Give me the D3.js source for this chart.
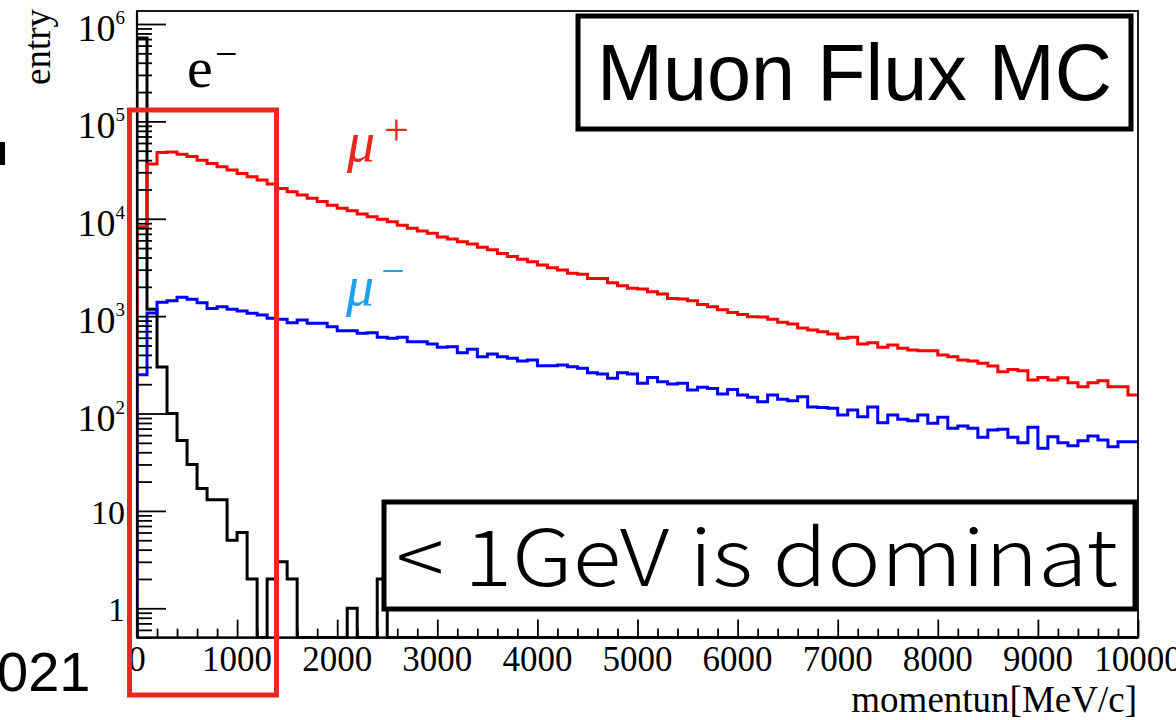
<!DOCTYPE html>
<html><head><meta charset="utf-8">
<script src="https://cdn.jsdelivr.net/npm/d3@7"></script>
<style>html,body{margin:0;padding:0;background:#fff;overflow:hidden;} svg{display:block;}</style>
</head><body>
<svg id="c" width="1176" height="720"></svg>
<script>
// ---------------- data ----------------
const binWidth = 100; // MeV/c per bin, 100 bins from 0 to 10000
const muPlus = [
 8300, 36500, 48000, 48500, 46000, 43500, 40000, 37000, 34200, 31600,
 29200, 27000, 25000, 22700, 20500, 18900, 17500, 16200, 15000, 13800,
 12800, 12100, 11200, 10500, 9900, 9300, 8600, 8000, 7500, 7100,
 6500, 6200, 5800, 5500, 5100, 4800, 4400, 4100, 3830, 3620,
 3350, 3140, 2970, 2750, 2690, 2440, 2430, 2200, 2050, 1930,
 1900, 1780, 1690, 1520, 1500, 1440, 1320, 1250, 1160, 1090,
 1040, 986, 980, 927, 864, 830, 755, 720, 692, 655,
 592, 606, 517, 533, 478, 505, 467, 449, 440, 442,
 399, 383, 354, 346, 328, 307, 269, 284, 275, 221,
 235, 221, 233, 207, 188, 207, 217, 188, 188, 155
];
const muMinus = [
 250, 1080, 1385, 1440, 1560, 1490, 1370, 1200, 1250, 1180,
 1130, 1070, 1030, 950, 927, 856, 912, 844, 844, 778,
 708, 708, 666, 676, 606, 592, 606, 546, 546, 517,
 478, 485, 421, 456, 383, 408, 383, 369, 346, 354,
 310, 310, 315, 303, 291, 262, 255, 230, 262, 255,
 204, 235, 212, 201, 204, 174, 186, 181, 159, 177,
 155, 147, 132, 155, 140, 135, 149, 117, 115, 113,
 96.6, 109, 92.7, 117, 80.5, 96.6, 87.2, 84.4, 96.6, 79.3,
 91.4, 70.5, 74.5, 70.5, 57, 67.7, 68.8, 57, 50.1, 72.2,
 43.9, 57.8, 50.1, 46.7, 52.6, 58.7, 53.5, 45.6, 51.3, 51.3
];
const eMinus = [
 720000, 1180, 300, 100, 53, 30, 17, 13, 13, 5,
 6, 2, 0, 2, 3, 2, 0, 0, 0, 0,
 0, 1, 0, 0, 2, 0, 0, 0, 0, 0,
 0, 0, 0, 0, 0, 0, 0, 0, 0, 0,
 0, 0, 0, 0, 0, 0, 0, 0, 0, 0,
 0, 0, 0, 0, 0, 0, 0, 0, 0, 0,
 0, 0, 0, 0, 0, 0, 0, 0, 0, 0,
 0, 0, 0, 0, 0, 0, 0, 0, 0, 0,
 0, 0, 0, 0, 0, 0, 0, 0, 0, 0,
 0, 0, 0, 0, 0, 0, 0, 0, 0, 0
];
const xTickValues = [0,1000,2000,3000,4000,5000,6000,7000,8000,9000,10000];
const xTickLabels = ["0","1000","2000","3000","4000","5000","6000","7000","8000","9000","10000"];
const yTickValues = [1,10,100,1000,10000,100000,1000000];
const yTickBase = ["1","10","10","10","10","10","10"];
const yTickExp  = ["","","2","3","4","5","6"];

// ---------------- layout ----------------
const svg = d3.select("#c");
const L = 137, R = 1138, T = 11, B = 637.6;
const x = d3.scaleLinear().domain([0, 10000]).range([L, R]);
const y = d3.scaleLog().domain([0.5, 1.36e6]).range([B, T]);
const serif = "'Liberation Serif','Times New Roman',Times,serif";
const sans = "'Liberation Sans',Arial,Helvetica,sans-serif";
const jpSans = "'Noto Sans CJK JP','Noto Sans',sans-serif";

svg.append("clipPath").attr("id","frameClip").append("rect")
  .attr("x", L).attr("y", T-2).attr("width", R-L).attr("height", B-T+4);

// histograms
function histPoints(vals){
  const pts = [[0, 0.5]];
  vals.forEach((v,i)=>pts.push([i*binWidth, v]));
  pts.push([vals.length*binWidth, vals[vals.length-1]]);
  return pts;
}
const line = d3.line()
  .x(d=>x(d[0]))
  .y(d=>y(Math.max(d[1], 0.5)))
  .curve(d3.curveStepAfter);
const hg = svg.append("g").attr("clip-path","url(#frameClip)");
[[eMinus,"#000000"],[muPlus,"#ff0000"],[muMinus,"#0000ff"]].forEach(([vals,col])=>{
  hg.append("path").attr("d", line(histPoints(vals)))
    .attr("fill","none").attr("stroke",col).attr("stroke-width",3)
    .attr("stroke-linejoin","miter");
});

// frame
svg.append("rect").attr("x",L).attr("y",T).attr("width",R-L).attr("height",B-T)
  .attr("fill","none").attr("stroke","#000").attr("stroke-width",1.8);

// y axis ticks (inward)
const yMinor = [];
[0.1,1,10,100,1000,10000,100000,1000000].forEach(d=>{
  for(let m=2;m<=9;m++){ const v=m*d; if(v>=0.5 && v<=1.36e6) yMinor.push(v); }
});
const yMajAxis = d3.axisRight(y).tickValues(yTickValues).tickSize(29).tickFormat("");
const yMinAxis = d3.axisRight(y).tickValues(yMinor).tickSize(15).tickFormat("");
[yMajAxis,yMinAxis].forEach(ax=>{
  const g = svg.append("g").attr("transform",`translate(${L},0)`).call(ax);
  g.select(".domain").remove();
  g.selectAll("line").attr("stroke","#000").attr("stroke-width",1.8);
});

// x axis ticks (inward)
const xMinor = d3.range(0, 10001, 200).filter(v=>v%1000!==0);
const xMajAxis = d3.axisTop(x).tickValues(xTickValues).tickSize(18).tickFormat("");
const xMinAxis = d3.axisTop(x).tickValues(xMinor).tickSize(9).tickFormat("");
[xMajAxis,xMinAxis].forEach(ax=>{
  const g = svg.append("g").attr("transform",`translate(0,${B})`).call(ax);
  g.select(".domain").remove();
  g.selectAll("line").attr("stroke","#000").attr("stroke-width",1.8);
});

// axis lines (slightly heavier)
svg.append("line").attr("x1",L).attr("x2",L).attr("y1",T).attr("y2",B).attr("stroke","#000").attr("stroke-width",2.2);
svg.append("line").attr("x1",L).attr("x2",R).attr("y1",B).attr("y2",B).attr("stroke","#000").attr("stroke-width",2.2);

// x tick labels (the last one runs off the right edge, as in the reference)
svg.append("g").selectAll("text").data(xTickValues).join("text")
  .attr("x", d=>x(d)).attr("y", 671)
  .attr("text-anchor","middle")
  .attr("font-family", serif).attr("font-size", 35)
  .text((d,i)=>xTickLabels[i]);

// y tick labels
yTickValues.forEach((v,i)=>{
  const hasExp = yTickExp[i] !== "";
  const t = svg.append("text")
    .attr("x", 125).attr("y", y(v) + (hasExp ? 17 : 13))
    .attr("text-anchor","end")
    .attr("font-family", serif).attr("font-size", hasExp ? 38 : 34);
  t.append("tspan").text(yTickBase[i]);
  if (hasExp) t.append("tspan").attr("font-size", 19).attr("dy", -17).text(yTickExp[i]);
});

// axis titles
svg.append("text").attr("x", 1137).attr("y", 712).attr("text-anchor","end")
  .attr("font-family", serif).attr("font-size", 37).text("momentun[MeV/c]");
svg.append("text").attr("transform","translate(50,9) rotate(-90)")
  .attr("text-anchor","end").attr("font-family", serif).attr("font-size", 37).text("entry");

// particle labels
svg.append("text").attr("x",187).attr("y",87).attr("font-family",serif).attr("font-size",58).text("e");
svg.append("text").attr("x",215).attr("y",67).attr("font-family",serif).attr("font-size",40).text("\u2212");
svg.append("text").attr("x",347).attr("y",161).attr("font-family",serif).attr("font-style","italic")
  .attr("font-size",56).attr("fill","#e8281e").text("\u03bc");
svg.append("text").attr("x",384).attr("y",145).attr("font-family",serif)
  .attr("font-size",44).attr("fill","#e8281e").text("+");
svg.append("text").attr("x",346).attr("y",305).attr("font-family",serif).attr("font-style","italic")
  .attr("font-size",56).attr("fill","#1ea0f0").text("\u03bc");
svg.append("text").attr("x",381).attr("y",285).attr("font-family",serif)
  .attr("font-size",42).attr("fill","#1ea0f0").text("\u2212");

// annotation boxes
svg.append("rect").attr("x",578).attr("y",16).attr("width",553).attr("height",113)
  .attr("fill","#fff").attr("stroke","#000").attr("stroke-width",5);
svg.append("text").attr("x",597).attr("y",100).attr("font-family",sans).attr("font-size",80)
  .attr("textLength",515).attr("lengthAdjust","spacingAndGlyphs").text("Muon Flux MC");

svg.append("rect").attr("x",384).attr("y",502).attr("width",751).attr("height",107)
  .attr("fill","#fff").attr("stroke","#000").attr("stroke-width",5);
svg.append("text").attr("x",396).attr("y",586).attr("font-family",jpSans).attr("font-weight",300)
  .attr("font-size",78)
  .attr("textLength",722).attr("lengthAdjust","spacingAndGlyphs").text("< 1GeV is dominat");

// red highlight box
svg.append("rect").attr("x",129.5).attr("y",110).attr("width",147).attr("height",585)
  .attr("fill","none").attr("stroke","#e8281e").attr("stroke-width",5);

// slide remnants on the left (partly outside the picture, as in the reference)
svg.append("rect").attr("x",0).attr("y",142).attr("width",5).attr("height",23).attr("fill","#000");
svg.append("text").attr("x",-3).attr("y",691).attr("font-family",sans).attr("font-size",56).text("021");
</script>
</body></html>
